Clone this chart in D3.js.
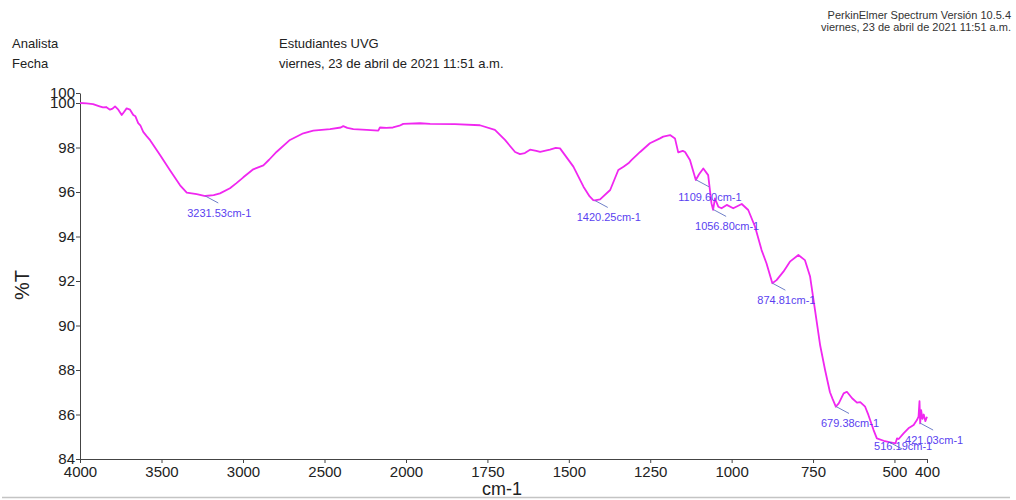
<!DOCTYPE html>
<html><head><meta charset="UTF-8"><title>Spectrum</title>
<style>
  body, html { margin: 0; padding: 0; background: #fff; overflow: hidden; }
  svg { display: block; font-family: 'Liberation Sans', Arial, sans-serif; }
  .axis path, .axis line { stroke: #444; stroke-width: 1; }
  .axis text { fill: #222; font-size: 15px; font-family: 'Liberation Sans', Arial, sans-serif; }
</style>
</head>
<body>
<svg id="chart" width="1016" height="500"></svg>
<script src="https://d3js.org/d3.v7.min.js"></script>
<script>
// spectrum
const waveNumbers = [4000, 3960, 3920, 3880, 3859, 3840, 3816, 3800, 3785, 3765, 3744, 3730, 3714, 3693, 3673, 3660,
  3643, 3630, 3612, 3590, 3570, 3540, 3509, 3448, 3386, 3345, 3284, 3231, 3180, 3141, 3080, 3040, 2998, 2937, 2875,
  2840, 2793, 2712, 2630, 2569, 2466, 2400, 2385, 2360, 2323, 2241, 2170, 2160, 2120, 2080, 2040, 2017, 1957, 1926,
  1850, 1773, 1727, 1696, 1665, 1650, 1635, 1619, 1600, 1588, 1558, 1540, 1527, 1486, 1455, 1436, 1425, 1420, 1404,
  1373, 1348, 1332, 1317, 1307, 1281, 1251, 1220, 1210, 1189, 1174, 1164, 1150, 1143, 1128, 1110, 1100, 1087, 1072,
  1062, 1057, 1051, 1041, 1031, 1015, 995, 969, 949, 928, 908, 893, 875, 862, 841, 821, 795, 775, 759, 744, 728, 713,
  698, 690, 680, 671, 656, 646, 630, 615, 605, 590, 580, 564, 554, 533, 516, 497, 492, 487, 472, 457, 441, 431, 426,
  423, 421, 418, 414, 410, 405, 400];
const transmittance = [100.0, 99.98, 99.95, 99.85, 99.8, 99.82, 99.7, 99.75, 99.85, 99.7, 99.46, 99.6, 99.76, 99.7, 99.46, 99.4,
  99.1, 99.0, 98.7, 98.5, 98.33, 98.0, 97.66, 96.98, 96.3, 95.97, 95.9, 95.82, 95.86, 95.94, 96.17, 96.4, 96.66, 97.02, 97.2,
  97.45, 97.81, 98.34, 98.64, 98.76, 98.83, 98.9, 98.96, 98.88, 98.83, 98.79, 98.76, 98.9, 98.88, 98.9, 98.98, 99.06, 99.09, 99.06,
  99.05, 99.0, 98.79, 98.34, 97.8, 97.7, 97.75, 97.9, 97.85, 97.8, 97.9, 97.98, 97.96, 97.14, 96.24, 95.8, 95.64, 95.62, 95.67,
  96.09, 96.99, 97.14, 97.29, 97.44, 97.8, 98.19, 98.41, 98.49, 98.56, 98.41, 97.78, 97.85, 97.8, 97.44, 96.54, 96.8, 97.06, 96.76,
  95.5, 95.2, 95.71, 95.34, 95.27, 95.42, 95.27, 95.46, 95.19, 94.44, 93.39, 92.8, 91.9, 92.04, 92.42, 92.87, 93.17, 92.94, 92.2, 90.7, 89.1, 88.0,
  87.0, 86.7, 86.35, 86.5, 86.95, 87.02, 86.73, 86.53, 86.56, 86.35, 85.98, 85.3, 84.93, 84.82, 84.76, 84.7, 84.93, 84.9, 85.15, 85.38, 85.53, 85.75, 85.9,
  86.6, 85.6, 86.2, 85.8, 86.0, 85.7, 85.9];

const peakWaveNumbers = [3231.53, 1420.25, 1109.60, 1056.80, 874.81, 679.38, 516.19, 421.03];
const peakLabels = ["3231.53cm-1", "1420.25cm-1", "1109.60cm-1", "1056.80cm-1", "874.81cm-1", "679.38cm-1", "516.19cm-1", "421.03cm-1"];

const xTicks = [4000, 3500, 3000, 2500, 2000, 1750, 1500, 1250, 1000, 750, 500, 400];
const yTicks = [84, 86, 88, 90, 92, 94, 96, 98, 100, 100.45];
const yTickLabels = ["84", "86", "88", "90", "92", "94", "96", "98", "100", "100"];

const svg = d3.select("#chart");

// x axis is split: 4000-2000 compressed, 2000-400 expanded
const x = d3.scaleLinear().domain([4000, 2000, 400]).range([80, 406, 927]);
const y = d3.scaleLinear().domain([84, 100.45]).range([459, 93]);

// header
const hdr = svg.append("g").attr("fill", "#222").attr("font-size", 13);
hdr.append("text").attr("x", 12).attr("y", 48).text("Analista");
hdr.append("text").attr("x", 12).attr("y", 68).text("Fecha");
hdr.append("text").attr("x", 279).attr("y", 48).text("Estudiantes UVG");
hdr.append("text").attr("x", 279).attr("y", 68).text("viernes, 23 de abril de 2021 11:51 a.m.");
const hdr2 = svg.append("g").attr("fill", "#333").attr("font-size", 11).attr("text-anchor", "end");
hdr2.append("text").attr("x", 1011).attr("y", 19).text("PerkinElmer Spectrum Versión 10.5.4");
hdr2.append("text").attr("x", 1011).attr("y", 31).text("viernes, 23 de abril de 2021 11:51 a.m.");

// axes
svg.append("g").attr("class", "axis")
  .attr("transform", "translate(0,459)")
  .call(d3.axisBottom(x).tickValues(xTicks).tickFormat(d3.format("d")).tickSize(4).tickSizeOuter(0).tickPadding(3));

svg.append("g").attr("class", "axis")
  .attr("transform", "translate(80,0)")
  .call(d3.axisLeft(y).tickValues(yTicks).tickFormat((d, i) => yTickLabels[i]).tickSize(4).tickSizeOuter(0).tickPadding(1));

svg.append("text").attr("x", 502).attr("y", 495).attr("text-anchor", "middle")
  .attr("font-size", 18).attr("fill", "#222").text("cm-1");
svg.append("text").attr("transform", "translate(29,285) rotate(-90)").attr("text-anchor", "middle")
  .attr("font-size", 20).attr("fill", "#222").text("%T");

// spectrum
const pts = waveNumbers.map((w, i) => [w, transmittance[i]]);
svg.append("path")
  .datum(pts)
  .attr("fill", "none")
  .attr("stroke", "#f027f0")
  .attr("stroke-width", 1.8)
  .attr("stroke-linejoin", "round")
  .attr("d", d3.line().x(d => x(d[0])).y(d => y(d[1])));

// peak labels
function tAt(w) {
  for (let i = 0; i < waveNumbers.length - 1; i++) {
    const a = waveNumbers[i], b = waveNumbers[i + 1];
    if (w <= a && w >= b) {
      const f = (a - w) / (a - b);
      return transmittance[i] + f * (transmittance[i + 1] - transmittance[i]);
    }
  }
  return transmittance[transmittance.length - 1];
}

const pk = svg.append("g");
peakWaveNumbers.forEach((w, i) => {
  const px = x(w), py = y(tAt(w));
  const low = i !== 6; // 516 label sits tight against the curve
  pk.append("line")
    .attr("x1", px).attr("y1", py)
    .attr("x2", px + 13).attr("y2", py + 7)
    .attr("stroke", "#6f7fc8").attr("stroke-width", 1);
  pk.append("text")
    .attr("x", px + 14).attr("y", py + (low ? 21 : 8))
    .attr("text-anchor", "middle")
    .attr("font-size", 11)
    .attr("fill", "#5a3ff0")
    .text(peakLabels[i]);
});

// page rule at bottom
svg.append("line").attr("x1", 2).attr("x2", 1010).attr("y1", 497.5).attr("y2", 497.5)
  .attr("stroke", "#c4c4c4").attr("stroke-width", 1.5);
</script>
</body></html>
